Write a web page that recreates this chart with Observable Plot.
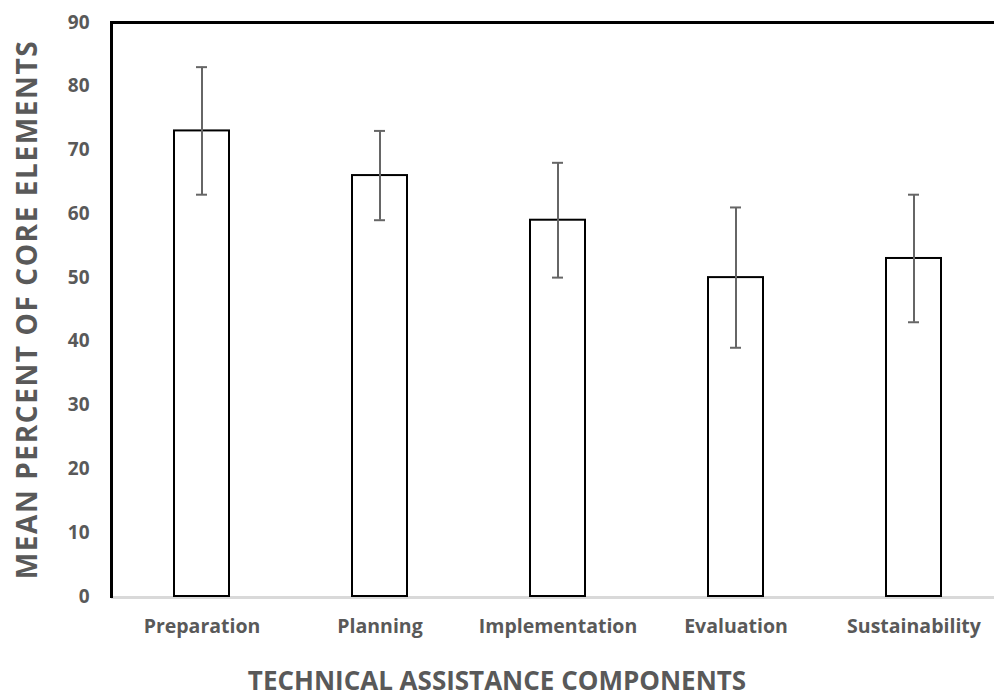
<!DOCTYPE html>
<html>
<head>
<meta charset="utf-8">
<script src="https://cdn.jsdelivr.net/npm/d3@7"></script>
<script src="https://cdn.jsdelivr.net/npm/@observablehq/plot@0.6"></script>
<style>
  html, body { margin: 0; padding: 0; background: #fff; overflow: hidden; }
  #chart { position: relative; width: 994px; height: 700px; }
  .xtitle { position: absolute; left: 0; width: 994px; top: 667px; text-align: center;
    font: bold 26px "Open Sans", sans-serif; color: #595959; line-height: 26px; }
</style>
</head>
<body>
<div id="chart"></div>
<script>
const categories = ["Preparation", "Planning", "Implementation", "Evaluation", "Sustainability"];
const means = [73, 66, 59, 50, 53];
const lows = [63, 59, 50, 39, 43];
const highs = [83, 73, 68, 61, 63];
const yTicks = [0, 10, 20, 30, 40, 50, 60, 70, 80, 90];

const data = categories.map((c, i) => ({cat: c, mean: means[i], lo: lows[i], hi: highs[i]}));

const plot = Plot.plot({
  width: 994,
  height: 700,
  marginLeft: 111,
  marginTop: 22,
  marginBottom: 104,
  marginRight: 0,
  style: {fontFamily: "'Open Sans', sans-serif", background: "#fff"},
  x: {domain: categories, range: [111, 1005], paddingInner: 0.69, paddingOuter: 0.345, label: null},
  y: {domain: [0, 90], label: null},
  marks: [
    Plot.ruleY([0], {stroke: "#d9d9d9", strokeWidth: 3, dy: 1}),
    Plot.barY(data, {x: "cat", y: "mean", fill: "white", stroke: "black", strokeWidth: 2}),
    Plot.ruleX(data, {x: "cat", y1: "lo", y2: "hi", stroke: "#666", strokeWidth: 2}),
    Plot.tickY(data, {x: "cat", y: "lo", stroke: "#666", strokeWidth: 2, insetLeft: 22, insetRight: 22}),
    Plot.tickY(data, {x: "cat", y: "hi", stroke: "#666", strokeWidth: 2, insetLeft: 22, insetRight: 22}),
    Plot.frame({anchor: "left", stroke: "black", strokeWidth: 3}),
    Plot.frame({anchor: "top", stroke: "black", strokeWidth: 3}),
    Plot.axisY({ticks: yTicks, tickSize: 0, tickPadding: 22, fontSize: 19, fontWeight: "bold", fill: "#595959", label: null}),
    Plot.axisX({tickSize: 0, tickPadding: 23, fontSize: 19.5, fontWeight: "bold", fill: "#595959", label: null}),
    Plot.text(["MEAN PERCENT OF CORE ELEMENTS"], {frameAnchor: "left", dx: -83, rotate: -90, textAnchor: "middle", fontSize: 28, fontWeight: "bold", fill: "#595959"})
  ]
});
d3.select(plot).selectAll("text").filter(function() { return this.textContent === "MEAN PERCENT OF CORE ELEMENTS"; })
  .style("letter-spacing", "1.6px");
document.getElementById("chart").appendChild(plot);
const t = document.createElement("div");
t.className = "xtitle";
t.textContent = "TECHNICAL ASSISTANCE COMPONENTS";
document.getElementById("chart").appendChild(t);
</script>
</body>
</html>
